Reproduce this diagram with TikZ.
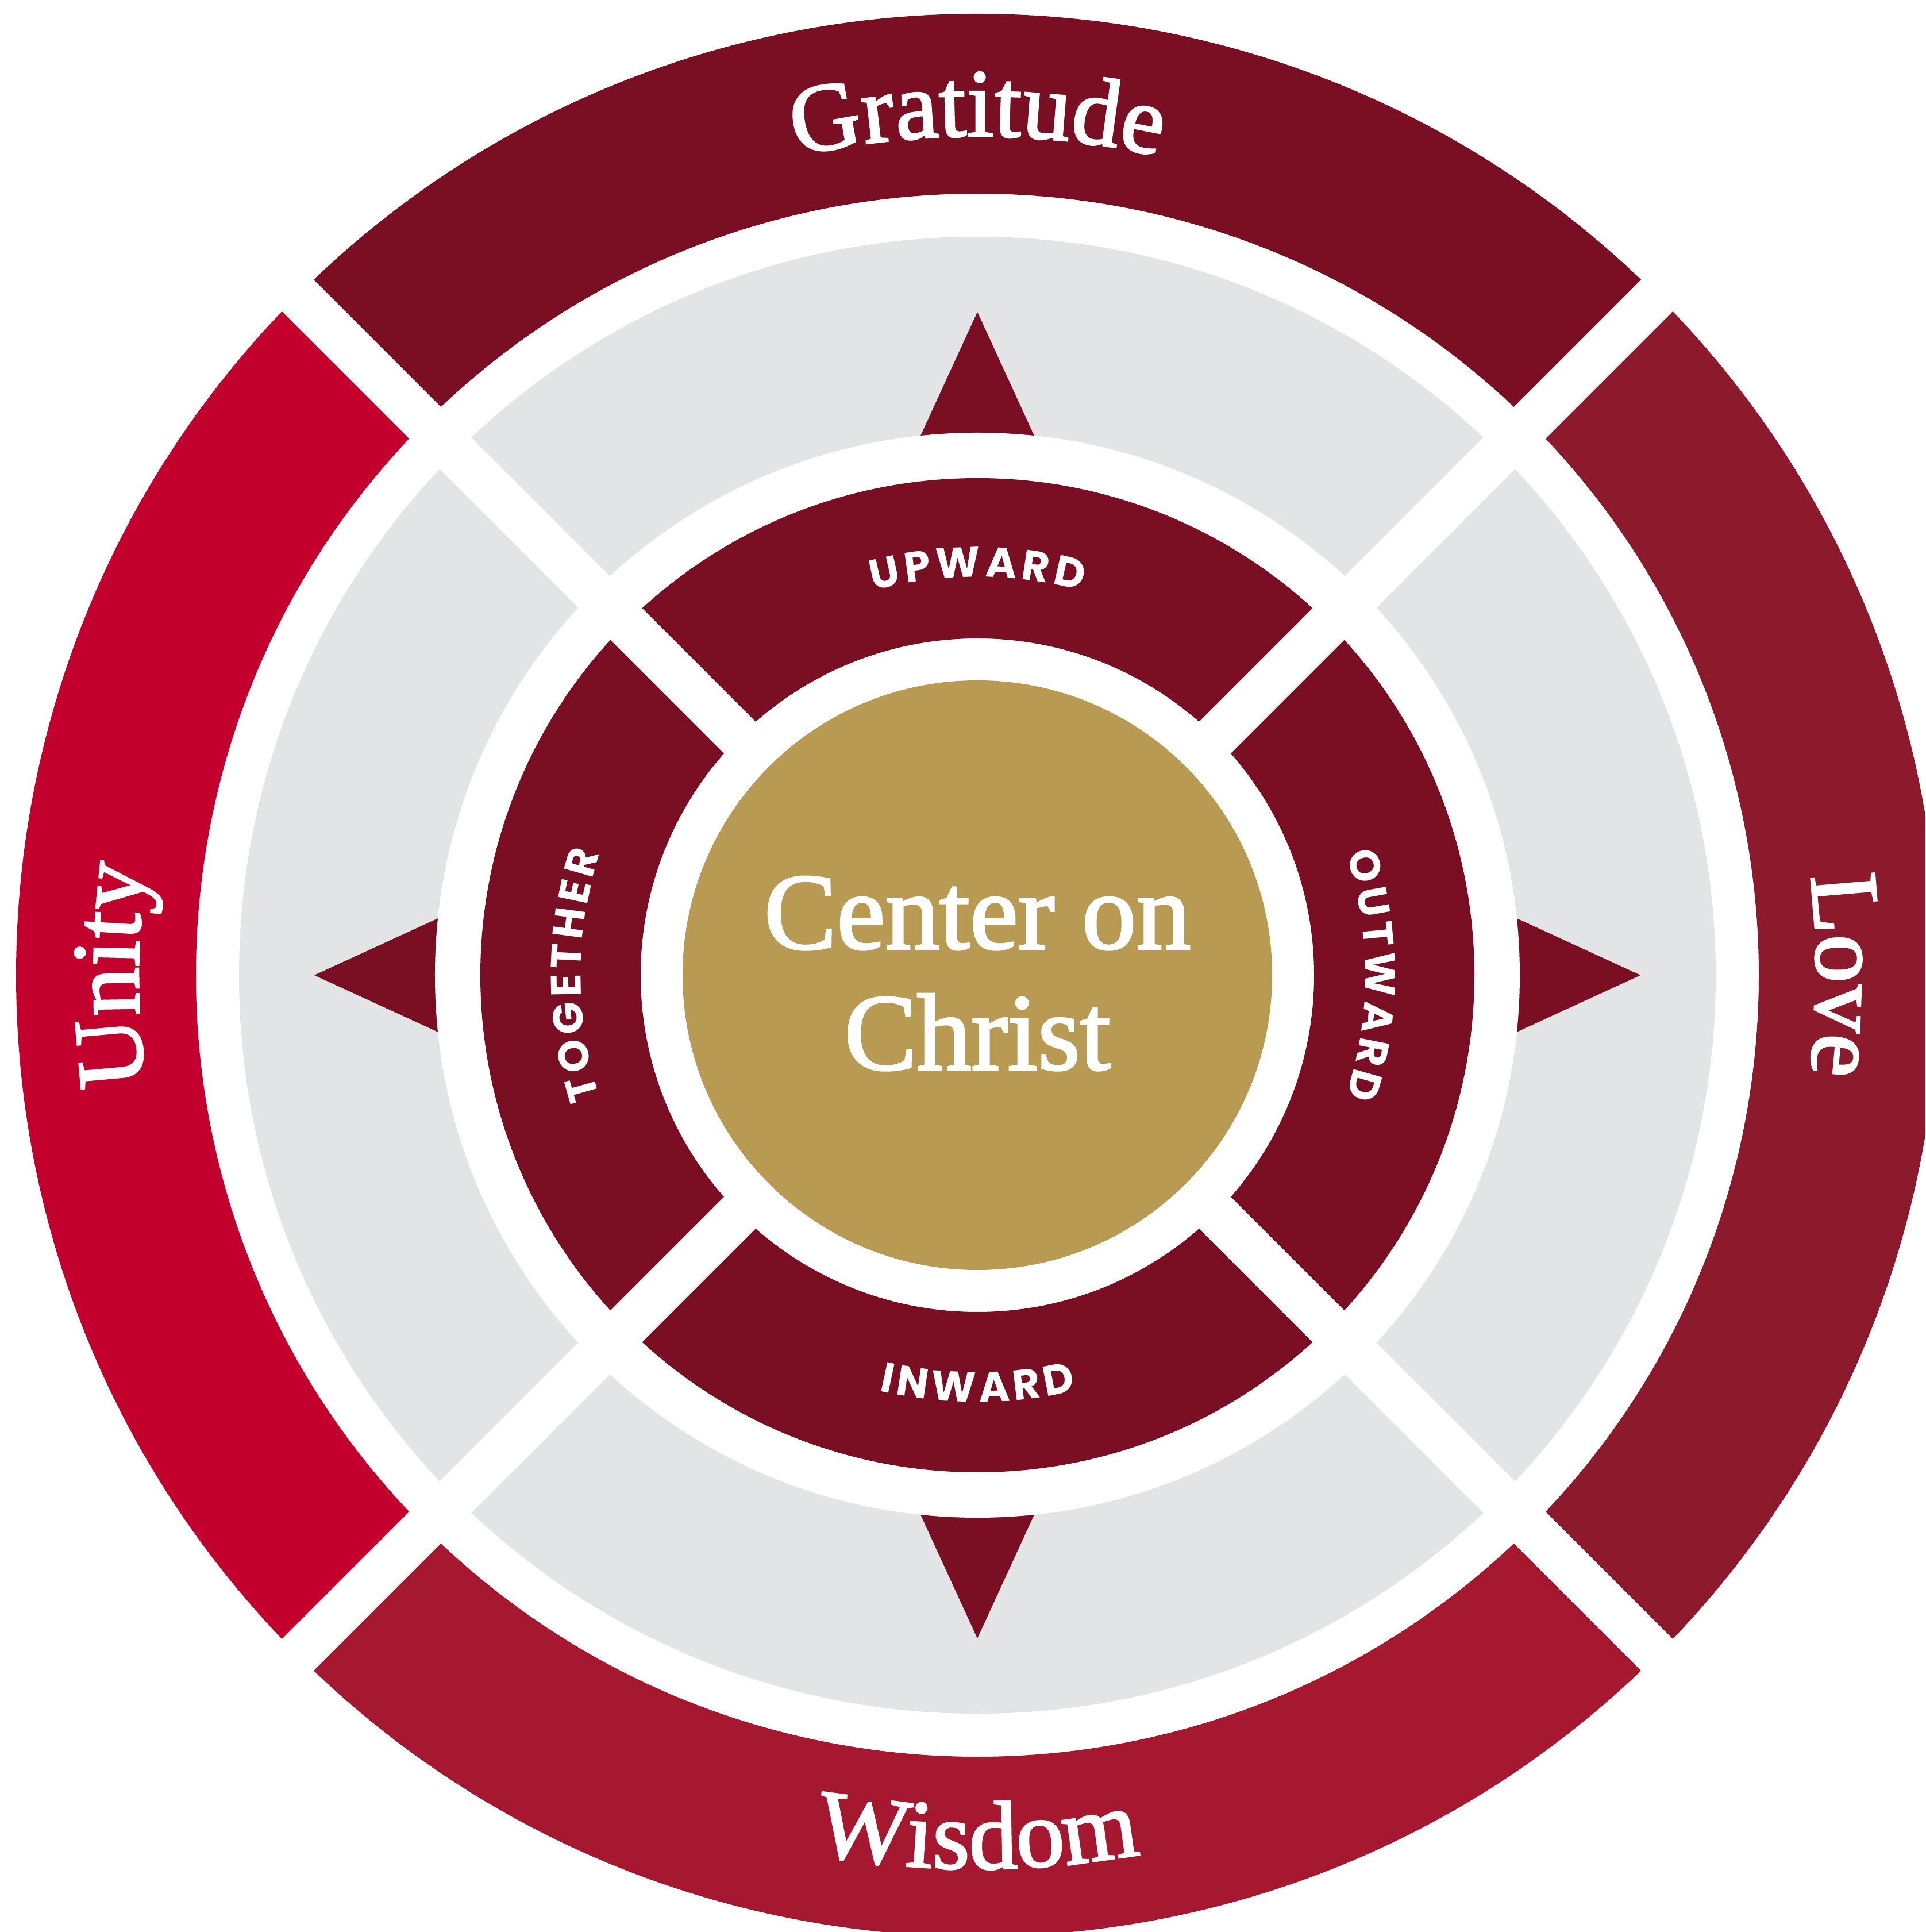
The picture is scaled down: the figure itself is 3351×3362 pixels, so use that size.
\documentclass[tikz,border=0pt]{standalone}
\usepackage{fontspec}
\usetikzlibrary{decorations.text}

\setmainfont{Liberation Serif}[FakeBold=2]
\newfontfamily\dirfamily{Poppins}
\newcommand{\ringfont}{\fontsize{24}{28}\selectfont}
\newcommand{\dirfont}{\dirfamily\bfseries\fontsize{10.5}{13}\selectfont}
\newcommand{\centerfont}{\fontsize{27}{32}\selectfont}

\definecolor{maroon}{HTML}{7A0E23}
\definecolor{lovered}{HTML}{8C1A2C}
\definecolor{wisdomred}{HTML}{A61830}
\definecolor{unityred}{HTML}{C3002D}
\definecolor{ringgray}{HTML}{E3E4E6}
\definecolor{christgold}{HTML}{B89A52}

\tikzset{
	ringlabel/.style={decorate, decoration={text along path, text align=center, text color=white, text={|\ringfont|#1}}},
	dirlabel/.style={decorate, decoration={text along path, text align=center, text color=white, text={|\dirfont|#1}}},
	centertext/.style={text=white, font=\centerfont, inner sep=0pt, anchor=base},
}

\begin{document}
\begin{tikzpicture}[x=0.005cm, y=0.005cm]

	\useasboundingbox (-1701,-1665) rectangle (1650,1697);
	\clip (-1701,-1665) rectangle (1650,1697);

	%%% Outer ring %%%
	\fill[maroon] (45:1673) arc[start angle=45, end angle=135, radius=1673] -- (135:1360) arc[start angle=135, end angle=45, radius=1360] -- cycle;
	\fill[unityred] (135:1673) arc[start angle=135, end angle=225, radius=1673] -- (225:1360) arc[start angle=225, end angle=135, radius=1360] -- cycle;
	\fill[wisdomred] (225:1673) arc[start angle=225, end angle=315, radius=1673] -- (315:1360) arc[start angle=315, end angle=225, radius=1360] -- cycle;
	\fill[lovered] (-45:1673) arc[start angle=-45, end angle=45, radius=1673] -- (45:1360) arc[start angle=45, end angle=-45, radius=1360] -- cycle;

	%%% Gray ring and arrows %%%
	\fill[ringgray, even odd rule] (0,0) circle[radius=1285] (0,0) circle[radius=944];

	\fill[maroon] (-116.7,900) -- (0,1154) -- (116.7,900) -- cycle;
	\fill[maroon] (-116.7,-900) -- (0,-1154) -- (116.7,-900) -- cycle;
	\fill[maroon] (900,-116.7) -- (1154,0) -- (900,116.7) -- cycle;
	\fill[maroon] (-900,-116.7) -- (-1154,0) -- (-900,116.7) -- cycle;

	\fill[white] (0,0) circle[radius=944];

	%%% Inner ring %%%
	\fill[maroon, even odd rule] (0,0) circle[radius=865] (0,0) circle[radius=586];

	%%% Cuts %%%
	\fill[white, rotate=45] (-1800,-39) rectangle (1800,39);
	\fill[white, rotate=-45] (-1800,-39) rectangle (1800,39);

	%%% Center %%%
	\fill[christgold] (0,0) circle[radius=513];
	\node[centertext] (cline1) at (0,46) {Center on};
	\node[centertext] (cline2) at (0,-164) {Christ};

	%%% Labels %%%
	\path[ringlabel=Gratitude] (135:1460) arc[start angle=135, end angle=45, radius=1460];
	\path[ringlabel=Love] (45:1460) arc[start angle=45, end angle=-45, radius=1460];
	\path[ringlabel=Unity] (225:1460) arc[start angle=225, end angle=135, radius=1460];
	\path[ringlabel=Wisdom] (225:1555) arc[start angle=225, end angle=315, radius=1555];

	\path[dirlabel={{U\kern1pt}{P\kern1pt}{W\kern1pt}{A\kern1pt}{R\kern1pt}D}] (135:693) arc[start angle=135, end angle=45, radius=693];
	\path[dirlabel={{O\kern1pt}{U\kern1pt}{T\kern1pt}{W\kern1pt}{A\kern1pt}{R\kern1pt}D}] (45:675) arc[start angle=45, end angle=-45, radius=675];
	\path[dirlabel={{T\kern1pt}{O\kern1pt}{G\kern1pt}{E\kern1pt}{T\kern1pt}{H\kern1pt}{E\kern1pt}R}] (225:690) arc[start angle=225, end angle=135, radius=690];
	\path[dirlabel={{I\kern1pt}{N\kern1pt}{W\kern1pt}{A\kern1pt}{R\kern1pt}D}] (225:743) arc[start angle=225, end angle=315, radius=743];

\end{tikzpicture}
\end{document}
